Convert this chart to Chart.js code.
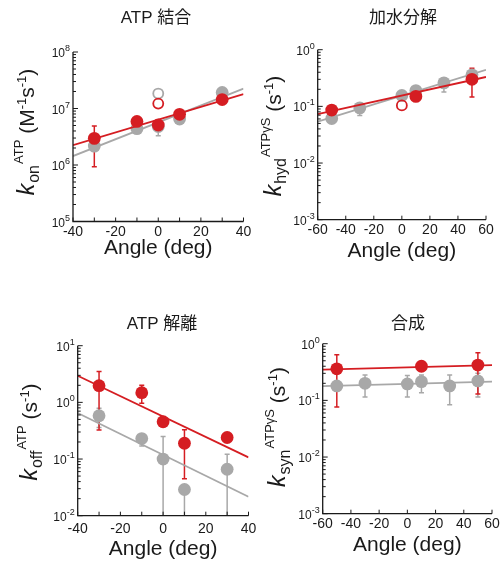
<!DOCTYPE html>
<html>
<head>
<meta charset="utf-8">
<script src="https://cdn.jsdelivr.net/npm/chart.js@4"></script>
<style>
  body { margin: 0; background: #fff; }
  #wrap { position: relative; width: 500px; height: 564px; }
  canvas { position: absolute; left: 0; top: 0; }
</style>
</head>
<body>
<div id="wrap">
  <canvas id="c1" width="500" height="564"></canvas>
  <canvas id="c2" width="500" height="564"></canvas>
  <canvas id="c3" width="500" height="564"></canvas>
  <canvas id="c4" width="500" height="564"></canvas>
</div>
<script>
// 颜色与字体
const RED = "#d51d22";
const GRAY = "#a8a8a8";
const INK = "#1a1a1a";
const FONT = '"Liberation Sans", Arial, "Noto Sans CJK JP", sans-serif';

// 刻度
const xTicks40 = [-40, -30, -20, -10, 0, 10, 20, 30, 40];
const xLabels40 = [-40, -20, 0, 20, 40];
const xTicks60 = [-60, -40, -20, 0, 20, 40, 60];
const xLabels60 = [-60, -40, -20, 0, 20, 40, 60];

// ATP 結合 (k_on)
const onGrayX = [-30, -10, 0, 10, 30];
const onGrayY = [2.16e6, 4.4e6, 4.8e6, 6.5e6, 1.92e7];
const onGrayLo = [null, null, 3.3e6, null, null];
const onGrayHi = [null, null, null, null, null];
const onRedX = [-30, -10, 0, 10, 30];
const onRedY = [2.96e6, 5.9e6, 5.1e6, 7.9e6, 1.44e7];
const onRedLo = [0.93e6, null, null, null, null];
const onRedHi = [4.9e6, null, null, null, null];
const onGrayOpen = [[0, 1.84e7]];
const onRedOpen = [[0, 1.22e7]];
const onGrayFit = [1.44e6, 2.25e7];
const onRedFit = [2.25e6, 1.8e7];

// 加水分解 (k_hyd)
const hydGrayX = [-50, -30, 0, 10, 30, 50];
const hydGrayY = [0.061, 0.094, 0.156, 0.19, 0.26, 0.36];
const hydGrayLo = [null, 0.069, null, null, 0.18, null];
const hydGrayHi = [null, null, null, null, null, null];
const hydRedX = [-50, 10, 50];
const hydRedY = [0.086, 0.15, 0.30];
const hydRedLo = [null, 0.123, 0.146];
const hydRedHi = [null, null, 0.47];
const hydGrayOpen = [];
const hydRedOpen = [[0, 0.104]];
const hydGrayFit = [0.054, 0.44];
const hydRedFit = [0.073, 0.33];

// ATP 解離 (k_off)
const offGrayX = [-30, -10, 0, 10, 30];
const offGrayY = [0.58, 0.23, 0.1, 0.029, 0.066];
const offGrayLo = [0.36, 0.17, 0.001, 0.001, 0.001];
const offGrayHi = [0.79, null, 0.25, null, 0.122];
const offRedX = [-30, -10, 0, 10, 30];
const offRedY = [1.97, 1.48, 0.455, 0.19, 0.24];
const offRedLo = [0.325, 0.96, null, 0.045, null];
const offRedHi = [3.5, 2.0, null, 0.33, null];
const offGrayFit = [0.65, 0.0216];
const offRedFit = [2.95, 0.107];

// 合成 (k_syn)
const synGrayX = [-50, -30, 0, 10, 30, 50];
const synGrayY = [0.18, 0.2, 0.195, 0.214, 0.18, 0.22];
const synGrayLo = [null, 0.115, 0.115, 0.136, 0.084, 0.115];
const synGrayHi = [null, 0.28, 0.275, 0.28, 0.28, 0.3];
const synRedX = [-50, 10, 50];
const synRedY = [0.36, 0.4, 0.42];
const synRedLo = [0.076, 0.33, 0.13];
const synRedHi = [0.64, 0.48, 0.69];
const synGrayFit = [0.178, 0.215];
const synRedFit = [0.35, 0.42];

function pts(xs, ys) {
    return xs.map((x, i) => ({ x: x, y: ys[i] }));
}

function supText(e) {
    return String(e);
}

// 画误差线
function drawErrors(chart, xs, ys, lo, hi, color) {
    const ctx = chart.ctx, a = chart.chartArea;
    const sx = chart.scales.x, sy = chart.scales.y;
    ctx.save();
    ctx.beginPath();
    ctx.rect(a.left, a.top - 2, a.right - a.left, a.bottom - a.top + 2);
    ctx.clip();
    ctx.strokeStyle = color;
    ctx.lineWidth = 1.5;
    xs.forEach((x, i) => {
        const px = sx.getPixelForValue(x);
        const py = sy.getPixelForValue(ys[i]);
        [lo[i], hi[i]].forEach(v => {
            if (v == null) return;
            const pv = sy.getPixelForValue(v);
            ctx.beginPath();
            ctx.moveTo(px, py);
            ctx.lineTo(px, pv);
            ctx.moveTo(px - 2.5, pv);
            ctx.lineTo(px + 2.5, pv);
            ctx.stroke();
        });
    });
    ctx.restore();
}

// 旋转的 y 轴标题（带上下标）
function drawRich(ctx, runs, bx, cy) {
    ctx.save();
    ctx.translate(bx, cy);
    ctx.rotate(-Math.PI / 2);
    ctx.fillStyle = INK;
    ctx.textBaseline = "alphabetic";
    let total = 0;
    runs.forEach(r => { ctx.font = r.f; total += ctx.measureText(r.t).width + (r.gap || 0); });
    let u = -total / 2;
    runs.forEach(r => {
        ctx.font = r.f;
        ctx.fillText(r.t, u, r.dy || 0);
        u += ctx.measureText(r.t).width + (r.gap || 0);
    });
    ctx.restore();
}

function makeChart(id, p) {
    const datasets = [
        { data: pts(p.redX, p.redY), backgroundColor: RED, pointRadius: 6.4, pointBorderWidth: 0, order: 0 },
        { data: p.redOpen.map(o => ({ x: o[0], y: o[1] })), backgroundColor: "rgba(0,0,0,0)", pointBorderColor: RED, pointBorderWidth: 1.8, pointRadius: 5, order: 0 },
        { data: [{ x: p.xMin, y: p.redFit[0] }, { x: p.xMax, y: p.redFit[1] }], showLine: true, borderColor: RED, borderWidth: 1.8, pointRadius: 0, order: 1 },
        { data: pts(p.grayX, p.grayY), backgroundColor: GRAY, pointRadius: 6.4, pointBorderWidth: 0, order: 2 },
        { data: p.grayOpen.map(o => ({ x: o[0], y: o[1] })), backgroundColor: "rgba(0,0,0,0)", pointBorderColor: GRAY, pointBorderWidth: 1.8, pointRadius: 5, order: 2 },
        { data: [{ x: p.xMin, y: p.grayFit[0] }, { x: p.xMax, y: p.grayFit[1] }], showLine: true, borderColor: GRAY, borderWidth: 1.8, pointRadius: 0, order: 3 }
    ];

    const panelPlugin = {
        id: "panel" + id,
        beforeDatasetsDraw(chart) {
            drawErrors(chart, p.grayX, p.grayY, p.grayLo, p.grayHi, GRAY);
            drawErrors(chart, p.redX, p.redY, p.redLo, p.redHi, RED);
        },
        afterDraw(chart) {
            const ctx = chart.ctx, a = chart.chartArea;
            const sx = chart.scales.x, sy = chart.scales.y;
            ctx.save();
            ctx.strokeStyle = INK;
            ctx.lineWidth = 1.3;
            ctx.beginPath();
            ctx.moveTo(a.left, a.top);
            ctx.lineTo(a.left, a.bottom);
            ctx.lineTo(a.right, a.bottom);
            ctx.stroke();

            // x 刻度
            ctx.lineWidth = 1;
            ctx.beginPath();
            p.xTicks.forEach(v => {
                const px = sx.getPixelForValue(v);
                ctx.moveTo(px, a.bottom);
                ctx.lineTo(px, a.bottom - 4);
            });
            // y 刻度（对数）
            p.decades.forEach((d, i) => {
                const py = sy.getPixelForValue(Math.pow(10, d));
                ctx.moveTo(a.left, py);
                ctx.lineTo(a.left + 5, py);
                if (i < p.decades.length - 1) {
                    for (let m = 2; m <= 9; m++) {
                        const pm = sy.getPixelForValue(m * Math.pow(10, d));
                        ctx.moveTo(a.left, pm);
                        ctx.lineTo(a.left + 3, pm);
                    }
                }
            });
            ctx.stroke();

            // x 刻度标签
            ctx.fillStyle = INK;
            ctx.font = "14px " + FONT;
            ctx.textAlign = "center";
            ctx.textBaseline = "middle";
            p.xLabels.forEach(v => {
                ctx.fillText(String(v), sx.getPixelForValue(v), p.xLabelY);
            });

            // y 刻度标签 10^n
            p.decades.forEach(d => {
                const py = sy.getPixelForValue(Math.pow(10, d));
                ctx.font = "9px " + FONT;
                const sw = ctx.measureText(supText(d)).width;
                const right = a.left - 3;
                ctx.textAlign = "left";
                ctx.textBaseline = "alphabetic";
                ctx.fillText(supText(d), right - sw, py - 1);
                ctx.font = "12px " + FONT;
                const tw = ctx.measureText("10").width;
                ctx.fillText("10", right - sw - tw, py + 5);
            });

            // 标题与轴标题
            ctx.textAlign = "center";
            ctx.textBaseline = "middle";
            ctx.font = "17px " + FONT;
            ctx.fillText(p.title, p.titleX, p.titleY);
            ctx.font = "21px " + FONT;
            ctx.fillText("Angle (deg)", (a.left + a.right) / 2, p.xTitleY);
            ctx.restore();

            drawRich(ctx, p.yTitle, p.yTitleX, p.yTitleY);
        }
    };

    return new Chart(document.getElementById(id), {
        type: "scatter",
        data: { datasets: datasets },
        options: {
            responsive: false,
            animation: false,
            devicePixelRatio: 1,
            layout: { padding: p.pad },
            plugins: { legend: { display: false }, tooltip: { enabled: false } },
            scales: {
                x: { type: "linear", display: false, min: p.xMin, max: p.xMax },
                y: { type: "logarithmic", display: false, min: Math.pow(10, p.decades[0]), max: Math.pow(10, p.decades[p.decades.length - 1]) }
            }
        },
        plugins: [panelPlugin]
    });
}

const K = "italic 23px " + FONT;
const SUB = "16px " + FONT;
const SUP = "13px " + FONT;
const MAIN = "21px " + FONT;

function kTitle(sub, sup, unit) {
    const runs = [
        { t: "k", f: K, gap: 1 },
        { t: sub, f: SUB, dy: 5, gap: 1 },
        { t: sup, f: SUP, dy: -11 },
        { t: " (", f: MAIN }
    ];
    unit.forEach(u => runs.push(u));
    runs.push({ t: ")", f: MAIN });
    return runs;
}

const perSec = [{ t: "s", f: MAIN }, { t: "-1", f: SUP, dy: -8 }];
const perMSec = [{ t: "M", f: MAIN }, { t: "-1", f: SUP, dy: -8 }, { t: "s", f: MAIN }, { t: "-1", f: SUP, dy: -8 }];

makeChart("c1", {
    xMin: -40, xMax: 40, decades: [5, 6, 7, 8], xTicks: xTicks40, xLabels: xLabels40,
    pad: { left: 73, top: 52, right: 256.5, bottom: 342.5 },
    grayX: onGrayX, grayY: onGrayY, grayLo: onGrayLo, grayHi: onGrayHi,
    redX: onRedX, redY: onRedY, redLo: onRedLo, redHi: onRedHi,
    grayOpen: onGrayOpen, redOpen: onRedOpen, grayFit: onGrayFit, redFit: onRedFit,
    title: "ATP 結合", titleX: 156, titleY: 18, xLabelY: 232, xTitleY: 248,
    yTitle: kTitle("on", "ATP", perMSec), yTitleX: 34, yTitleY: 132
});

makeChart("c2", {
    xMin: -60, xMax: 60, decades: [-3, -2, -1, 0], xTicks: xTicks60, xLabels: xLabels60,
    pad: { left: 317.7, top: 49.7, right: 14, bottom: 344.3 },
    grayX: hydGrayX, grayY: hydGrayY, grayLo: hydGrayLo, grayHi: hydGrayHi,
    redX: hydRedX, redY: hydRedY, redLo: hydRedLo, redHi: hydRedHi,
    grayOpen: hydGrayOpen, redOpen: hydRedOpen, grayFit: hydGrayFit, redFit: hydRedFit,
    title: "加水分解", titleX: 403, titleY: 18, xLabelY: 230, xTitleY: 251,
    yTitle: kTitle("hyd", "ATPγS", perSec), yTitleX: 281, yTitleY: 136
});

makeChart("c3", {
    xMin: -40, xMax: 40, decades: [-2, -1, 0, 1], xTicks: xTicks40, xLabels: xLabels40,
    pad: { left: 77.7, top: 345.7, right: 251.5, bottom: 48.3 },
    grayX: offGrayX, grayY: offGrayY, grayLo: offGrayLo, grayHi: offGrayHi,
    redX: offRedX, redY: offRedY, redLo: offRedLo, redHi: offRedHi,
    grayOpen: [], redOpen: [], grayFit: offGrayFit, redFit: offRedFit,
    title: "ATP 解離", titleX: 162, titleY: 324, xLabelY: 529, xTitleY: 549,
    yTitle: kTitle("off", "ATP", perSec), yTitleX: 37, yTitleY: 432
});

makeChart("c4", {
    xMin: -60, xMax: 60, decades: [-3, -2, -1, 0], xTicks: xTicks60, xLabels: xLabels60,
    pad: { left: 322.7, top: 343.7, right: 8, bottom: 50.3 },
    grayX: synGrayX, grayY: synGrayY, grayLo: synGrayLo, grayHi: synGrayHi,
    redX: synRedX, redY: synRedY, redLo: synRedLo, redHi: synRedHi,
    grayOpen: [], redOpen: [], grayFit: synGrayFit, redFit: synRedFit,
    title: "合成", titleX: 408, titleY: 324, xLabelY: 524, xTitleY: 545,
    yTitle: kTitle("syn", "ATPγS", perSec), yTitleX: 285, yTitleY: 427
});
</script>
</body>
</html>
